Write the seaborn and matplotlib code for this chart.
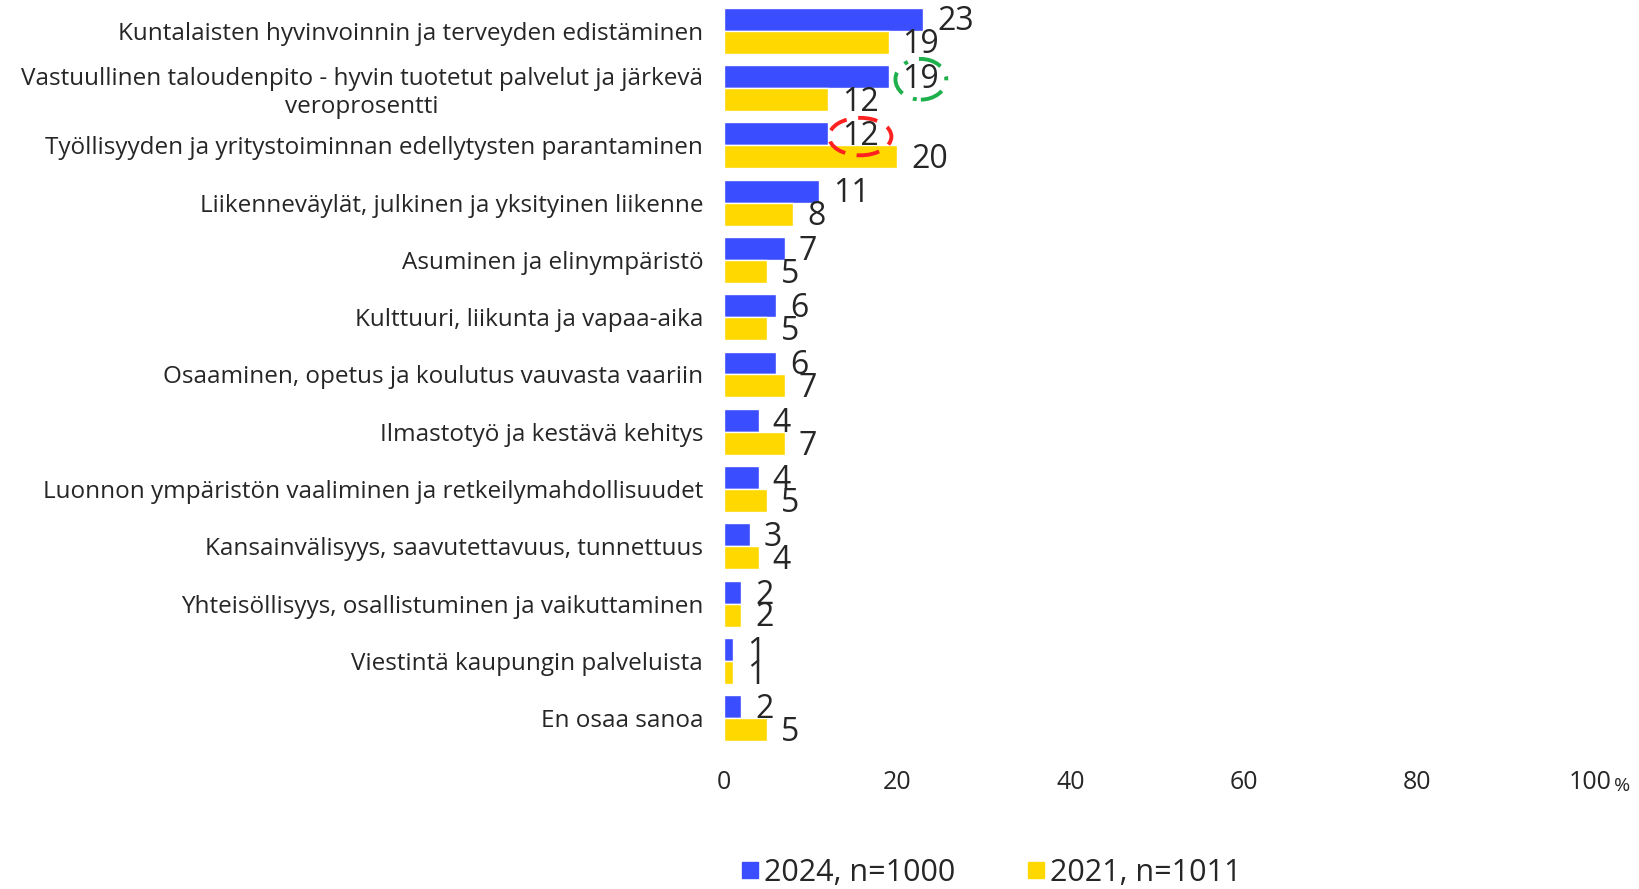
import pandas as pd
import matplotlib.pyplot as plt
import seaborn as sns
from matplotlib.path import Path
from matplotlib.transforms import Affine2D
from matplotlib.lines import Line2D

# Data
categories = [
    "Kuntalaisten hyvinvoinnin ja terveyden edistäminen",
    "Vastuullinen taloudenpito - hyvin tuotetut palvelut ja järkevä\nveroprosentti",
    "Työllisyyden ja yritystoiminnan edellytysten parantaminen",
    "Liikenneväylät, julkinen ja yksityinen liikenne",
    "Asuminen ja elinympäristö",
    "Kulttuuri, liikunta ja vapaa-aika",
    "Osaaminen, opetus ja koulutus vauvasta vaariin",
    "Ilmastotyö ja kestävä kehitys",
    "Luonnon ympäristön vaaliminen ja retkeilymahdollisuudet",
    "Kansainvälisyys, saavutettavuus, tunnettuus",
    "Yhteisöllisyys, osallistuminen ja vaikuttaminen",
    "Viestintä kaupungin palveluista",
    "En osaa sanoa",
]
values_2024 = [23, 19, 12, 11, 7, 6, 6, 4, 4, 3, 2, 1, 2]
values_2021 = [19, 12, 20, 8, 5, 5, 7, 7, 5, 4, 2, 1, 5]
series = ["2024, n=1000", "2021, n=1011"]
colors = ["#3a4dff", "#ffd800"]
x_ticks = [0, 20, 40, 60, 80, 100]

df = pd.DataFrame({
    "category": categories * 2,
    "value": values_2024 + values_2021,
    "series": [series[0]] * len(categories) + [series[1]] * len(categories),
})

sns.set_theme(style="white")
plt.rcParams["font.family"] = ["Open Sans", "DejaVu Sans"]

fig = plt.figure(figsize=(16.4, 8.89), dpi=100)
ax = fig.add_axes([0.4415, 0.163, 0.528, 0.8315])

sns.barplot(
    data=df, y="category", x="value", hue="series",
    palette=colors, orient="h", width=0.8, ax=ax,
    saturation=1, legend=False,
)

ax.set_xlim(0, 100)
ax.set_ylim(len(categories) - 1 + 0.45, -0.45)
ax.set_xticks(x_ticks)
ax.set_xticklabels([str(t) for t in x_ticks])
ax.set_xlabel("")
ax.set_ylabel("")
sns.despine(ax=ax, left=True, bottom=True)
ax.tick_params(axis="x", length=0, pad=19, labelsize=18)
ax.tick_params(axis="y", length=0, pad=15, labelsize=17.5)
for lbl in ax.get_yticklabels():
    lbl.set_multialignment("center")

# "%" after the last tick
ax.annotate("%", xy=(100, 0), xycoords=("data", "axes fraction"),
            xytext=(17, -30), textcoords="offset points",
            ha="left", va="center", fontsize=14)

# value labels
labels = []
for cont in ax.containers:
    texts = ax.bar_label(cont, padding=10, fontsize=23)
    for t in texts:
        t.xyann = (10, -2)
    labels.append(texts)


def ellipse_box(padx, pady):
    def box(x0, y0, width, height, mutation_size):
        rx = width / 2 + padx * mutation_size
        ry = height / 2 + pady * mutation_size
        return Path.unit_circle().transformed(
            Affine2D().scale(rx, ry).translate(x0 + width / 2, y0 + height / 2))
    return box


# highlight circles
labels[0][1].set_bbox(dict(boxstyle=ellipse_box(0.22, 0.12), fc="none",
                           ec="#1db04b", lw=2.8, ls=(0, (6, 3, 1, 3))))
labels[0][2].set_bbox(dict(boxstyle=ellipse_box(0.4, 0.07), fc="none",
                           ec="#ff2020", lw=2.8, ls=(0, (5, 3))))

handles = [Line2D([0], [0], marker="s", ls="none", markersize=12,
                  markerfacecolor=c, markeredgecolor=c) for c in colors]
fig.legend(handles, series, loc="center", bbox_to_anchor=(0.604, 0.018),
           ncol=2, frameon=False, fontsize=22, handletextpad=0.1,
           columnspacing=2.3, handlelength=0.7)

fig.savefig("out.png", dpi=100)
